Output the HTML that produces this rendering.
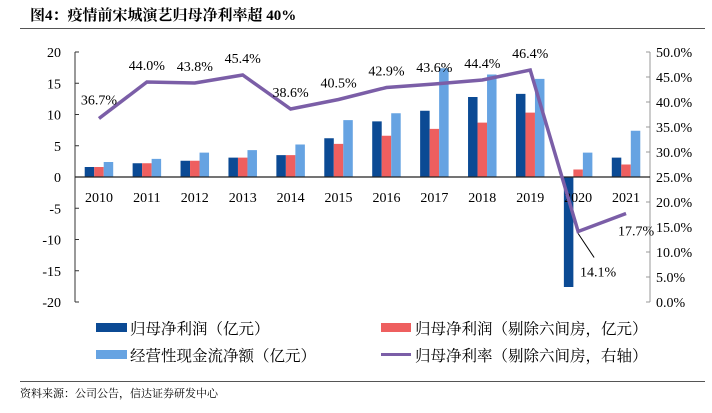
<!DOCTYPE html>
<html><head><meta charset="utf-8"><style>
body{margin:0;background:#fff;width:712px;height:413px;overflow:hidden;font-family:"Liberation Serif","Noto Serif CJK SC",serif}
.t{position:absolute}
.lg{font-size:15.5px;font-family:'Liberation Serif','Noto Serif CJK SC',serif;white-space:nowrap}
</style></head><body>
<div class="t" style="left:30px;top:4px;font-size:15px;font-weight:bold;font-family:'Liberation Serif','Noto Serif CJK SC',serif">图4：疫情前宋城演艺归母净利率超 40%</div>
<div class="t" style="left:20px;top:28px;width:685px;height:1px;background:#555"></div>
<svg id="c" class="t" style="left:0;top:0" width="712" height="413"></svg>
<div>
<div class="t" style="left:96px;top:323px;width:31px;height:9px;background:#0b4a94"></div>
<div class="t lg" style="left:130px;top:317px">归母净利润（亿元）</div>
<div class="t" style="left:381px;top:323px;width:30px;height:9px;background:#ee5f5f"></div>
<div class="t lg" style="left:415px;top:317px">归母净利润（剔除六间房，亿元）</div>
<div class="t" style="left:96px;top:350px;width:31px;height:9px;background:#66a3e2"></div>
<div class="t lg" style="left:130px;top:344px">经营性现金流净额（亿元）</div>
<div class="t" style="left:381px;top:353px;width:30px;height:3px;background:#7b5ea7"></div>
<div class="t lg" style="left:415px;top:344px">归母净利率（剔除六间房，右轴）</div>
</div>
<div class="t" style="left:20px;top:381px;width:685px;height:1px;background:#555"></div>
<div class="t" style="left:20px;top:385px;font-size:11px;font-family:'Liberation Serif','Noto Serif CJK SC',serif">资料来源：公司公告，信达证券研发中心</div>
<script>
const years=["2010","2011","2012","2013","2014","2015","2016","2017","2018","2019","2020","2021"];
const netProfit=[1.6,2.2,2.6,3.1,3.5,6.2,8.9,10.6,12.8,13.3,-17.6,3.1];
const netProfitEx=[1.6,2.2,2.6,3.1,3.5,5.3,6.6,7.7,8.7,10.3,1.2,2.0];
const cashflow=[2.4,2.9,3.9,4.3,5.2,9.1,10.2,17.4,16.4,15.7,3.9,7.4];
const margin=[36.7,44.0,43.8,45.4,38.6,40.5,42.9,43.6,44.4,46.4,14.1,17.7];
const leftTicks=[20,15,10,5,0,-5,-10,-15,-20];
const rightTicks=[50,45,40,35,30,25,20,15,10,5,0];
const NS="http://www.w3.org/2000/svg",svg=document.getElementById('c');
const X0=75,X1=650,TOP=52,BOT=302,cw=(X1-X0)/years.length;
const yL=v=>TOP+(20-v)/40*(BOT-TOP);
const yR=v=>TOP+(50-v)/50*(BOT-TOP);
const xc=i=>X0+cw*(i+0.5);
function mk(t,a){const e=document.createElementNS(NS,t);for(const k in a)e.setAttribute(k,a[k]);svg.appendChild(e);return e;}
let e;
e=mk('line',{x1:X0,y1:TOP,x2:X0,y2:BOT,stroke:'#333'});


e=mk('line',{x1:X1,y1:TOP,x2:X1,y2:BOT,stroke:'#999'});


leftTicks.forEach(v=>{
 mk('line',{x1:X0,y1:yL(v),x2:X0+4,y2:yL(v),stroke:'#333'});
 e=mk('text',{x:X0-14,y:yL(v)+5,'text-anchor':'end','font-size':14});e.textContent=v;
 
 
});
rightTicks.forEach(v=>{
 mk('line',{x1:X1-4,y1:yR(v),x2:X1,y2:yR(v),stroke:'#999'});
 e=mk('text',{x:X1+6,y:yR(v)+5,'font-size':14});e.textContent=v.toFixed(1)+'%';
 
 
});
const bw=9.5;
[[netProfit,'#0b4a94','bar-net-profit'],[netProfitEx,'#ee5f5f','bar-net-profit-ex'],[cashflow,'#66a3e2','bar-cashflow']].forEach((s,j)=>{
 s[0].forEach((v,i)=>{
  const x=xc(i)+(j-1.5)*bw,y0=yL(0),y=yL(v);
  e=mk('rect',{x:x,y:Math.min(y,y0),width:bw,height:Math.abs(y-y0),fill:s[1]});
  
  
 });
});
e=mk('line',{x1:X0,y1:yL(0),x2:X1,y2:yL(0),stroke:'#222','stroke-width':1.3});


years.forEach((y,i)=>{
 e=mk('text',{x:xc(i),y:yL(0)+25,'text-anchor':'middle','font-size':14});e.textContent=y;
 
 
});
e=mk('polyline',{points:margin.map((v,i)=>xc(i)+','+yR(v)).join(' '),fill:'none',stroke:'#7b5ea7','stroke-width':3.5,'stroke-linejoin':'miter'});


margin.forEach((v,i)=>{
 let x=xc(i),y=yR(v)-12;
 if(i===0){y=yR(v)-14;}
 if(i===10){x=xc(i)+20;y=yR(v)+45;mk('line',{x1:xc(i),y1:yR(v)+2,x2:xc(i)+16,y2:yR(v)+26,stroke:'#000'});}
 if(i===11){x=xc(i)+10;y=yR(v)+22;}
 e=mk('text',{x:x,y:y,'text-anchor':'middle','font-size':14});e.textContent=v.toFixed(1)+'%';
 
 
});
</script>
</body></html>
